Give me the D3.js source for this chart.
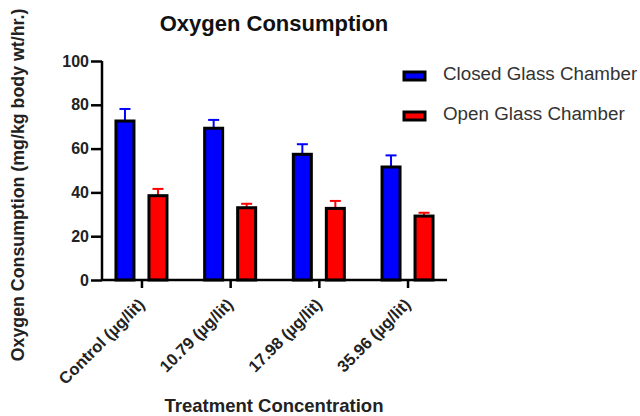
<!DOCTYPE html>
<html>
<head>
<meta charset="utf-8">
<script src="https://cdn.jsdelivr.net/npm/d3@7"></script>
<style>
  body { margin: 0; background: #fff; }
  text { font-family: "Liberation Sans", Arial, sans-serif; }
</style>
</head>
<body>
<svg width="640" height="416"></svg>
<script>
var categories = ["Control (µg/lit)", "10.79 (µg/lit)", "17.98 (µg/lit)", "35.96 (µg/lit)"];
var closedMean = [72.6, 69.3, 57.4, 51.6];
var closedErr = [5.5, 3.8, 4.6, 5.3];
var openMean = [38.5, 33.0, 32.7, 29.2];
var openErr = [3.1, 1.8, 3.4, 1.5];
var yTicks = [0, 20, 40, 60, 80, 100];

var series = [
    { name: "Closed Glass Chamber", color: "#0000ff", mean: closedMean, err: closedErr, off: -16.5 },
    { name: "Open Glass Chamber", color: "#ff0000", mean: openMean, err: openErr, off: 16.5 }
];

var svg = d3.select("svg");
var plotL = 102, plotR = 447, plotT = 61, plotB = 280;

var x = d3.scalePoint().domain(categories).range([plotL, plotR]).padding(0.445);
var y = d3.scaleLinear().domain([0, 100]).range([plotB, plotT]);

// title
svg.append("text")
    .attr("x", 274).attr("y", 31)
    .attr("text-anchor", "middle")
    .attr("font-size", 22).attr("font-weight", "bold")
    .attr("fill", "#111")
    .text("Oxygen Consumption");

// bars
var barW = 18;
series.forEach(function (s) {
    var g = svg.append("g");
    categories.forEach(function (c, i) {
        var cx = x(c) + s.off;
        // error bar
        g.append("line")
            .attr("x1", cx).attr("x2", cx)
            .attr("y1", y(s.mean[i])).attr("y2", y(s.mean[i] + s.err[i]))
            .attr("stroke", s.color).attr("stroke-width", 2);
        g.append("line")
            .attr("x1", cx - 5.5).attr("x2", cx + 5.5)
            .attr("y1", y(s.mean[i] + s.err[i])).attr("y2", y(s.mean[i] + s.err[i]))
            .attr("stroke", s.color).attr("stroke-width", 2);
        g.append("rect")
            .attr("x", cx - barW / 2)
            .attr("y", y(s.mean[i]))
            .attr("width", barW)
            .attr("height", y(0) - y(s.mean[i]))
            .attr("fill", s.color)
            .attr("stroke", "#000").attr("stroke-width", 3);
    });
});

// y axis
var yAxis = svg.append("g")
    .attr("transform", "translate(" + plotL + ",0)")
    .call(d3.axisLeft(y).tickValues(yTicks).tickSize(11).tickPadding(2));
yAxis.select(".domain").attr("stroke-width", 2.5).attr("d", "M0," + (plotB + 1) + "V" + plotT);
yAxis.selectAll(".tick line").attr("stroke-width", 2.5);
yAxis.selectAll("text").attr("font-size", 16).attr("font-weight", "bold")
    .attr("fill", "#222").attr("font-family", "Liberation Sans, Arial, sans-serif");

// x axis
var xAxis = svg.append("g")
    .attr("transform", "translate(0," + plotB + ")")
    .call(d3.axisBottom(x).tickSize(8).tickPadding(4));
xAxis.select(".domain").attr("stroke-width", 2.5).attr("d", "M" + plotL + ",0H" + plotR);
xAxis.selectAll(".tick line").attr("stroke-width", 2.5);
xAxis.selectAll("text")
    .attr("font-size", 16.5).attr("font-weight", "bold").attr("fill", "#222")
    .attr("font-family", "Liberation Sans, Arial, sans-serif")
    .attr("text-anchor", "end")
    .attr("dy", "0.35em")
    .attr("transform", "translate(-9,13) rotate(-45)");

// axis titles
svg.append("text")
    .attr("x", 274).attr("y", 412)
    .attr("text-anchor", "middle")
    .attr("font-size", 18.5).attr("font-weight", "bold").attr("fill", "#222")
    .text("Treatment Concentration");

svg.append("text")
    .attr("transform", "translate(24,185) rotate(-90)")
    .attr("text-anchor", "middle")
    .attr("font-size", 17.8).attr("font-weight", "bold").attr("fill", "#222")
    .text("Oxygen Consumption (mg/kg body wt/hr.)");

// legend
var legend = svg.selectAll(".legend").data(series).enter().append("g")
    .attr("transform", function (d, i) { return "translate(404," + (72 + i * 40) + ")"; });
legend.append("rect")
    .attr("width", 21).attr("height", 8)
    .attr("fill", function (d) { return d.color; })
    .attr("stroke", "#000").attr("stroke-width", 3);
legend.append("text")
    .attr("x", 39).attr("y", 8)
    .attr("font-size", 18.8).attr("fill", "#333")
    .text(function (d) { return d.name; });
</script>
</body>
</html>
